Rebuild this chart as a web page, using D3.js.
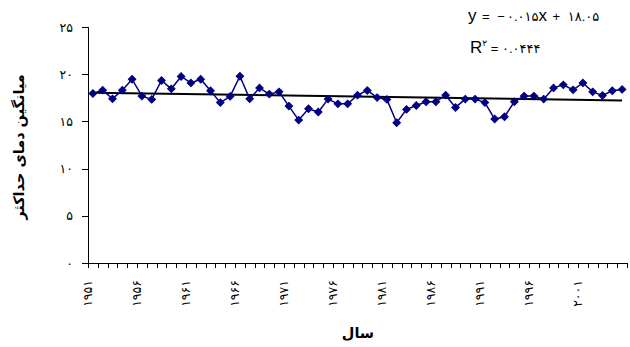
<!DOCTYPE html>
<html>
<head>
<meta charset="utf-8">
<script src="https://cdn.jsdelivr.net/npm/d3@7"></script>
<style>
  body { margin: 0; background: #fff; }
  svg { display: block; }
  .axis text { font-family: "DejaVu Sans", sans-serif; font-size: 12.5px; fill: #000; }
  .axis path, .axis line { stroke: #000; stroke-width: 1; shape-rendering: crispEdges; }
  .title { font-family: "DejaVu Sans", sans-serif; font-weight: bold; font-size: 14.5px; }
  .eq { font-family: "Liberation Sans", "DejaVu Sans", sans-serif; }
</style>
</head>
<body>
<div id="chart"></div>
<script>
// data
var years = d3.range(1951, 2006);
var tmax = [17.96, 18.31, 17.39, 18.31, 19.47, 17.68, 17.33, 19.34, 18.45, 19.76,
            19.08, 19.47, 18.24, 16.99, 17.65, 19.79, 17.39, 18.55, 17.89, 18.13,
            16.62, 15.14, 16.34, 15.99, 17.36, 16.86, 16.86, 17.78, 18.28, 17.52,
            17.33, 14.86, 16.27, 16.69, 17.08, 17.08, 17.78, 16.48, 17.36, 17.36,
            16.99, 15.25, 15.49, 17.08, 17.68, 17.68, 17.36, 18.55, 18.87, 18.34,
            19.08, 18.13, 17.75, 18.24, 18.39];
var yTicks = [0, 5, 10, 15, 20, 25];
var labelYears = [1951, 1956, 1961, 1966, 1971, 1976, 1981, 1986, 1991, 1996, 2001];
// linear trend from the chart: y = -0.015x + 18.05 (x = 1..55)
var trendSlope = -0.015, trendIntercept = 18.05;

var yTitle = "میانگین دمای حداکثر",
    xTitle = "سال";

function fa(s) {
    return String(s).replace(/[0-9]/g, function(c) { return "۰۱۲۳۴۵۶۷۸۹"[+c]; });
}

// settings
var W = 630, H = 347,
    margin = { top: 27, right: 4, bottom: 84, left: 88 },
    width = 627 - margin.left,
    height = 263 - margin.top;

var svg = d3.select("#chart").append("svg")
    .attr("width", W)
    .attr("height", H);

var g = svg.append("g")
    .attr("transform", "translate(" + margin.left + "," + margin.top + ")");

var x = d3.scaleBand()
    .domain(years)
    .range([0, width]);

var y = d3.scaleLinear()
    .domain([0, 25])
    .range([height, 0]);

var cx = function(yr) { return x(yr) + x.bandwidth() / 2; };

// y axis
var yAxis = g.append("g")
    .attr("class", "axis")
    .call(d3.axisLeft(y).tickValues(yTicks).tickSize(6).tickPadding(9).tickFormat(fa));

// x axis with ticks between categories
var xAxis = g.append("g")
    .attr("class", "axis")
    .attr("transform", "translate(0," + height + ")");

xAxis.append("line")
    .attr("x1", 0).attr("x2", width)
    .attr("y1", 0).attr("y2", 0);

xAxis.selectAll(".tk")
    .data(years.concat([null]))
    .enter().append("line")
        .attr("class", "tk")
        .attr("x1", function(d, i) { return Math.round(i * x.step()) + 0.5; })
        .attr("x2", function(d, i) { return Math.round(i * x.step()) + 0.5; })
        .attr("y1", 0)
        .attr("y2", 5);

xAxis.selectAll(".yl")
    .data(labelYears)
    .enter().append("text")
        .attr("class", "yl")
        .attr("transform", function(d) { return "translate(" + (cx(d) - 5) + ",17) rotate(-90)"; })
        .attr("dy", "0.35em")
        .style("text-anchor", "end")
        .text(fa);

// trend line
var trend = d3.line()
    .x(function(d) { return cx(d); })
    .y(function(d, i) { return y(trendSlope * (years.indexOf(d) + 1) + trendIntercept); });

g.append("path")
    .datum([years[0], years[years.length - 1]])
    .attr("d", trend)
    .attr("fill", "none")
    .attr("stroke", "#000")
    .attr("stroke-width", 2);

// data series
var line = d3.line()
    .x(function(d, i) { return cx(years[i]); })
    .y(function(d) { return y(d); });

g.append("path")
    .datum(tmax)
    .attr("d", line)
    .attr("fill", "none")
    .attr("stroke", "#000080")
    .attr("stroke-width", 1.5);

var diamond = d3.symbol().type(d3.symbolSquare).size(28);

g.selectAll(".pt")
    .data(tmax)
    .enter().append("path")
        .attr("class", "pt")
        .attr("d", diamond)
        .attr("transform", function(d, i) { return "translate(" + cx(years[i]) + "," + y(d) + ") rotate(45)"; })
        .attr("fill", "#000080")
        .attr("stroke", "#000080")
        .attr("stroke-width", 1);

// titles
svg.append("text")
    .attr("class", "title")
    .attr("transform", "translate(24,147) rotate(-90)")
    .style("text-anchor", "middle")
    .text(yTitle);

svg.append("text")
    .attr("class", "title")
    .attr("x", 358)
    .attr("y", 338)
    .style("text-anchor", "middle")
    .text(xTitle);

// equation and R²
var eq1 = svg.append("text").attr("class", "eq").attr("x", 468).attr("y", 21).attr("direction", "ltr");
eq1.append("tspan").style("font-size", "17px").text("y");
eq1.append("tspan").style("font-size", "13px").style("letter-spacing", "2px").text(" = −" + fa("0.015"));
eq1.append("tspan").style("font-size", "17px").text("x");
eq1.append("tspan").style("font-size", "13px").style("letter-spacing", "2px").text(" + " + fa("18.05"));

var eq2 = svg.append("text").attr("class", "eq").attr("x", 470).attr("y", 53).attr("direction", "ltr");
eq2.append("tspan").style("font-size", "17px").text("R");
eq2.append("tspan").style("font-size", "9px").attr("dy", -7).text(fa("2"));
eq2.append("tspan").style("font-size", "13px").style("letter-spacing", "2px").attr("dy", 7).text(" = " + fa("0.0444"));
</script>
</body>
</html>
